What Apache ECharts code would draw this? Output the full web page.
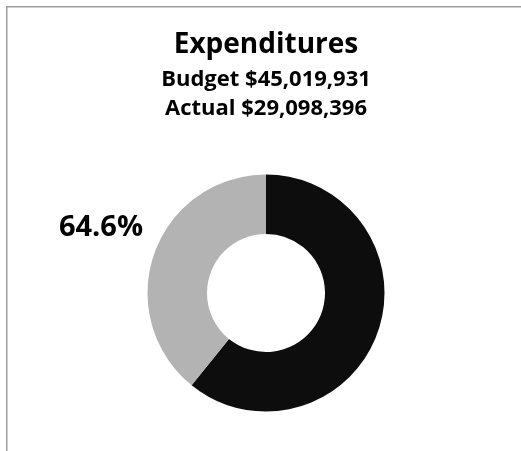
<!DOCTYPE html>
<html>
<head>
<meta charset="utf-8">
<script src="https://cdn.jsdelivr.net/npm/echarts@6/dist/echarts.min.js"></script>
<style>
  html, body { margin: 0; padding: 0; background: #fff; }
  #chart { width: 521px; height: 451px; }
</style>
</head>
<body>
<div id="chart"></div>
<script>
// Expenditures: budget, amount spent so far, and the progress ring
const titleText = 'Expenditures';
const budgetTotal = 45019931;
const actualSpent = 29098396;
// ring shares (percent), dark part first, starting at 12 o'clock
const ringNames = ['Completed', 'Outstanding'];
const ringValues = [60.8, 39.2];
const ringColors = ['#0d0d0d', '#b3b3b3'];

const fmtMoney = v => '$' + v.toLocaleString('en-US');
const spentPct = (actualSpent / budgetTotal * 100).toFixed(1) + '%';
const FONT = '"Open Sans", "DejaVu Sans", sans-serif';

const chart = echarts.init(document.getElementById('chart'), null, { renderer: 'canvas' });

chart.setOption({
  animation: false,
  backgroundColor: '#ffffff',
  graphic: [
    {
      // frame of the chart area (right and bottom edges fall outside the view)
      type: 'rect',
      shape: { x: 6.75, y: 6.75, width: 700, height: 700 },
      style: { fill: null, stroke: '#a0a0a0', lineWidth: 1.5 },
      silent: true
    },
    {
      type: 'text',
      x: 266, y: 45,
      style: {
        text: titleText,
        font: 'bold 28px ' + FONT,
        fill: '#000',
        align: 'center',
        verticalAlign: 'middle'
      }
    },
    {
      type: 'text',
      x: 266, y: 80,
      style: {
        text: 'Budget ' + fmtMoney(budgetTotal),
        font: 'bold 22px ' + FONT,
        fill: '#000',
        align: 'center',
        verticalAlign: 'middle'
      }
    },
    {
      type: 'text',
      x: 266, y: 109,
      style: {
        text: 'Actual ' + fmtMoney(actualSpent),
        font: 'bold 22px ' + FONT,
        fill: '#000',
        align: 'center',
        verticalAlign: 'middle'
      }
    },
    {
      // share of the budget spent
      type: 'text',
      x: 101, y: 228,
      style: {
        text: spentPct,
        font: 'bold 29px ' + FONT,
        fill: '#000',
        align: 'center',
        verticalAlign: 'middle'
      }
    }
  ],
  series: [
    {
      type: 'pie',
      center: [266, 293],
      radius: [59, 118.5],
      startAngle: 90,
      clockwise: true,
      emphasis: { disabled: true },
      label: { show: false },
      labelLine: { show: false },
      data: ringValues.map((v, i) => ({
        name: ringNames[i],
        value: v,
        itemStyle: { color: ringColors[i] }
      }))
    }
  ]
});
</script>
</body>
</html>
